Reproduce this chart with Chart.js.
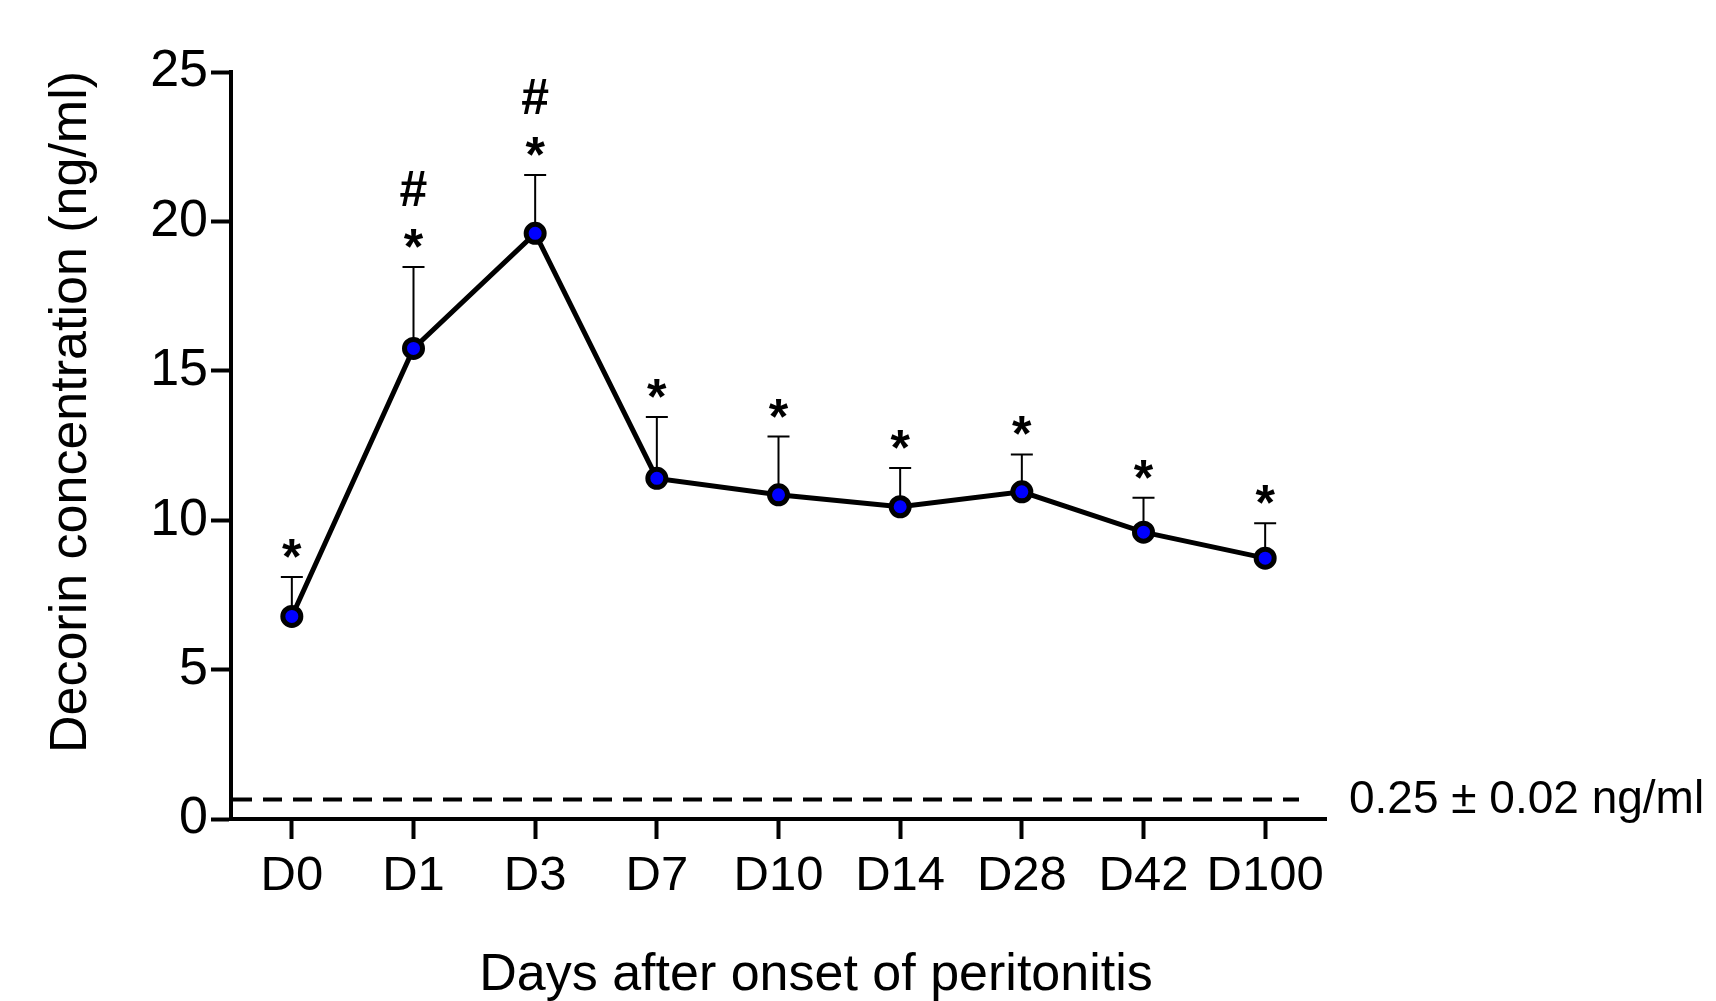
<!DOCTYPE html>
<html>
<head>
<meta charset="utf-8">
<script src="https://cdn.jsdelivr.net/npm/chart.js@4.4.1/dist/chart.umd.min.js"></script>
<style>
  html, body { margin: 0; padding: 0; background: #fff; }
  #wrap { width: 1716px; height: 1001px; }
</style>
</head>
<body>
<div id="wrap"><canvas id="decorinChart" width="1716" height="1001"></canvas></div>
<script>
// Chart data
const days = ['D0', 'D1', 'D3', 'D7', 'D10', 'D14', 'D28', 'D42', 'D100'];
const meanValues = [6.78, 15.75, 19.6, 11.4, 10.85, 10.45, 10.95, 9.6, 8.73];
const upperErrors = [8.1, 18.47, 21.55, 13.45, 12.8, 11.75, 12.2, 10.75, 9.9];
const starMarks = ['*', '*', '*', '*', '*', '*', '*', '*', '*'];
const hashMarks = ['', '#', '#', '', '', '', '', '', ''];
const yTicks = [0, 5, 10, 15, 20, 25];
const baselineValue = 0.65;
const baselineLabel = '0.25 \u00b1 0.02 ng/ml';
const xTitle = 'Days after onset of peritonitis';
const yTitle = 'Decorin concentration (ng/ml)';

const FONT = '"Liberation Sans", Arial, sans-serif';

// Error bars, significance marks, control line and axis titles
const extrasPlugin = {
    id: 'extras',
    beforeDatasetsDraw(chart) {
        const {ctx, scales: {x, y}} = chart;
        ctx.save();
        ctx.strokeStyle = '#000';
        ctx.lineWidth = 2;
        upperErrors.forEach((top, i) => {
            const px = x.getPixelForValue(i);
            const yMean = y.getPixelForValue(meanValues[i]);
            const yTop = y.getPixelForValue(top);
            ctx.beginPath();
            ctx.moveTo(px, yMean);
            ctx.lineTo(px, yTop);
            ctx.moveTo(px - 11, yTop);
            ctx.lineTo(px + 11, yTop);
            ctx.stroke();
        });
        ctx.restore();
    },
    afterDraw(chart) {
        const {ctx, chartArea, scales: {x, y}} = chart;
        ctx.save();

        // control level (dashed)
        const yBase = y.getPixelForValue(baselineValue);
        ctx.strokeStyle = '#000';
        ctx.lineWidth = 4;
        ctx.setLineDash([19, 11]);
        ctx.beginPath();
        ctx.moveTo(chartArea.left + 2, yBase);
        ctx.lineTo(chartArea.right - 27, yBase);
        ctx.stroke();
        ctx.setLineDash([]);

        ctx.fillStyle = '#000';
        ctx.font = `46px ${FONT}`;
        ctx.textAlign = 'left';
        ctx.textBaseline = 'alphabetic';
        ctx.fillText(baselineLabel, chartArea.right + 23, 813);

        // significance marks
        ctx.font = `bold 50px ${FONT}`;
        ctx.textAlign = 'center';
        days.forEach((d, i) => {
            const px = x.getPixelForValue(i);
            const yTop = y.getPixelForValue(upperErrors[i]);
            if (starMarks[i]) ctx.fillText(starMarks[i], px, yTop - 3);
            if (hashMarks[i]) ctx.fillText(hashMarks[i], px, yTop - 61);
        });

        // axis titles
        ctx.font = `52px ${FONT}`;
        ctx.textAlign = 'center';
        ctx.fillText(xTitle, 816, 990);

        ctx.translate(86, 412);
        ctx.rotate(-Math.PI / 2);
        ctx.fillText(yTitle, 0, 0);
        ctx.restore();
    }
};

const ctx = document.getElementById('decorinChart').getContext('2d');
new Chart(ctx, {
    type: 'line',
    data: {
        labels: days,
        datasets: [{
            data: meanValues,
            borderColor: '#000',
            borderWidth: 5,
            tension: 0,
            pointRadius: 9,
            pointBorderWidth: 5,
            pointBackgroundColor: '#0000ff',
            pointBorderColor: '#000',
            fill: false
        }]
    },
    options: {
        responsive: false,
        animation: false,
        layout: {
            padding: {left: 0, top: 72, right: 390, bottom: 0}
        },
        plugins: {
            legend: {display: false},
            tooltip: {enabled: false}
        },
        scales: {
            x: {
                type: 'category',
                offset: true,
                grid: {
                    drawOnChartArea: false,
                    offset: false,
                    tickLength: 20,
                    tickWidth: 4,
                    tickColor: '#000'
                },
                border: {display: true, color: '#000', width: 4},
                ticks: {
                    color: '#000',
                    padding: 8,
                    maxRotation: 0,
                    autoSkip: false,
                    font: {family: FONT, size: 49}
                },
                afterFit(scale) { scale.height = 182; }
            },
            y: {
                min: 0,
                max: 25,
                afterBuildTicks(scale) {
                    scale.ticks = yTicks.map(v => ({value: v}));
                },
                grid: {
                    drawOnChartArea: false,
                    tickLength: 20,
                    tickWidth: 4,
                    tickColor: '#000'
                },
                border: {display: true, color: '#000', width: 4},
                ticks: {
                    color: '#000',
                    padding: 3,
                    font: {family: FONT, size: 52}
                },
                afterFit(scale) { scale.width = 231; }
            }
        }
    },
    plugins: [extrasPlugin]
});
</script>
</body>
</html>
